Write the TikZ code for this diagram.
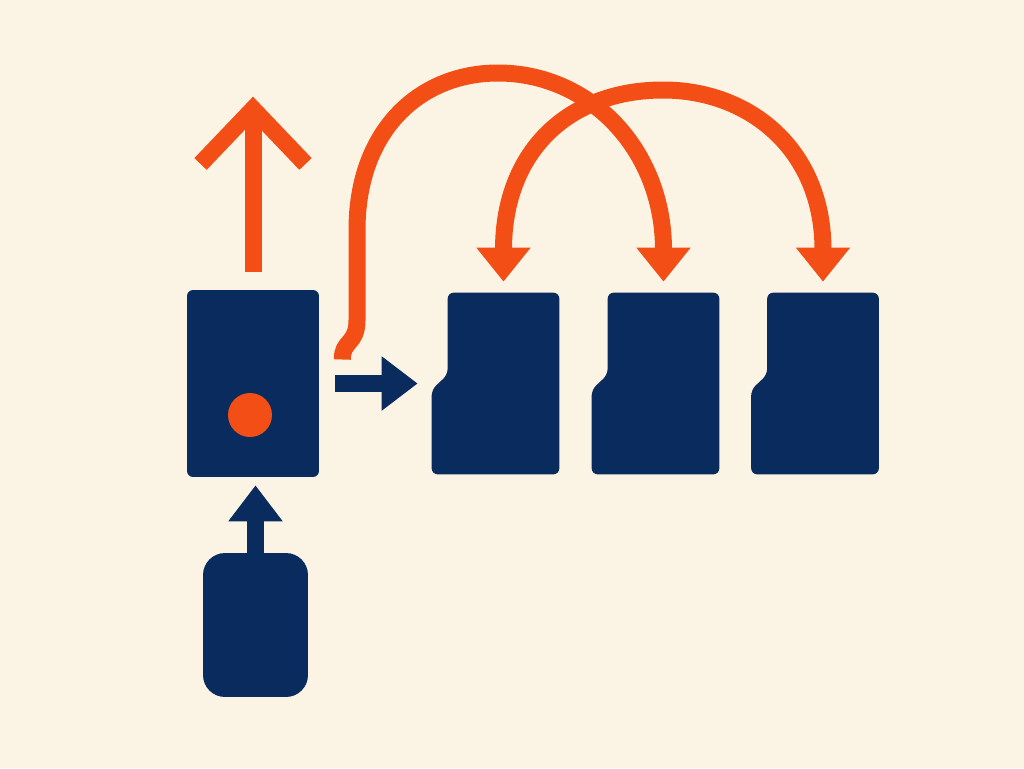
\documentclass[tikz,border=0pt]{standalone}
\usepackage{xcolor}
\usepackage{tikz}
\usetikzlibrary{arrows.meta,calc,positioning}

\definecolor{cream}{RGB}{251,244,228}
\definecolor{navy}{RGB}{10,43,94}
\definecolor{flame}{RGB}{243,78,22}

\tikzset{
  block/.style={fill=navy, rounded corners=0.12cm, inner sep=0pt},
  flow/.style={draw=flame, line width=0.34cm, -{Triangle[length=0.68cm,width=1.04cm]}},
  push/.style={draw=navy, line width=0.35cm, -{Triangle[length=0.72cm,width=1.04cm]}},
}

\begin{document}
\begin{tikzpicture}[x=0.02cm,y=-0.02cm]
\fill[cream] (0,0) rectangle (1024,768);
\node[block, minimum width=2.64cm, minimum height=3.74cm] (core) at (253,383.5) {};
\node[block, rounded corners=0.44cm, minimum width=2.1cm, minimum height=2.88cm] (mouse) at (255.5,625) {};
\node[circle, fill=flame, minimum size=0.88cm, inner sep=0pt] (led) at (250,415) {};
% cards with notch
\foreach \i/\x in {1/495.5,2/655.5,3/815} {
  \node[minimum width=2.54cm, minimum height=3.62cm, inner sep=0pt] (card\i) at (\x,383.5) {};
  \fill[navy, rounded corners=0.12cm] ($(card\i.north west)+(16,0)$) -- (card\i.north east) -- (card\i.south east) -- (card\i.south west) -- ($(card\i.north west)+(0,97)$) -- ($(card\i.north west)+(16,82)$) -- cycle;
  \coordinate (slot\i) at ($(card\i.north)+(8,-11)$);
}
\coordinate (hook) at ($(core.east)+(23,-24)$);
\coordinate (lift) at ($(core.north)+(0,-193)$);

\draw[draw=flame, line width=0.34cm, -{Straight Barb[length=1.1cm,width=2.1cm]}] ($(core.north)+(0,-18)$) -- (lift);
\draw[flow] (hook) .. controls (342,340) and (357,345) .. (357,320) -- (357,230)
  .. controls (357,130) and (420,73) .. (498,73) .. controls (590,73) and (663.5,150) .. (slot2);
\draw[flow, {Triangle[length=0.68cm,width=1.04cm]}-{Triangle[length=0.68cm,width=1.04cm]}] (slot1)
  .. controls (503.5,150) and (570,90) .. (663,90) .. controls (750,90) and (823,150) .. (slot3);
\draw[push, shorten <=0.32cm, shorten >=0.28cm] (core.east) -- (card1.west);
\draw[push, shorten >=0.16cm] (mouse.north) -- (mouse.north |- core.south);
\end{tikzpicture}
\end{document}
